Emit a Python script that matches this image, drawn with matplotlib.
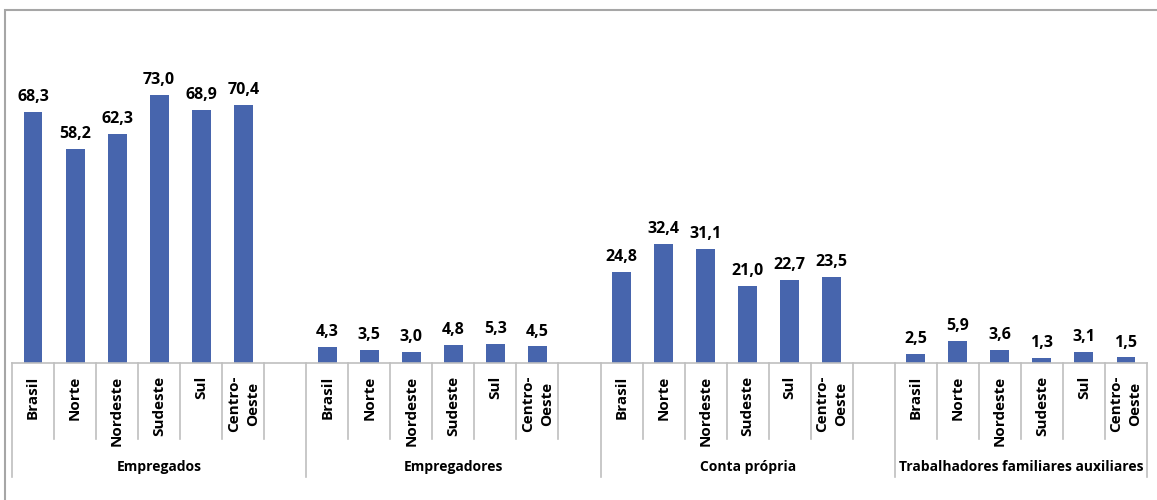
import matplotlib
matplotlib.use("Agg")
from matplotlib import pyplot as plt
from matplotlib import transforms
from matplotlib.patches import Rectangle

# chart data
groups = ["Empregados", "Empregadores", "Conta própria",
          "Trabalhadores familiares auxiliares"]
regions = ["Brasil", "Norte", "Nordeste", "Sudeste", "Sul", "Centro-\nOeste"]
empregados = [68.3, 58.2, 62.3, 73.0, 68.9, 70.4]
empregadores = [4.3, 3.5, 3.0, 4.8, 5.3, 4.5]
conta_propria = [24.8, 32.4, 31.1, 21.0, 22.7, 23.5]
familiares = [2.5, 5.9, 3.6, 1.3, 3.1, 1.5]
series = [empregados, empregadores, conta_propria, familiares]

plt.rcParams["font.family"] = ["Open Sans", "DejaVu Sans"]

W, H = 1157, 500
fig = plt.figure(figsize=(W / 100, H / 100), dpi=100)

# axes placed in pixel units of the image (top-left origin)
left, right, top, base = 12, 1147, 20, 363
ax = fig.add_axes([left / W, 1 - base / H, (right - left) / W,
                   (base - top) / H])

bar_color = "#4765AD"
line_color = "#BFBFBF"

# slots: 7 per group, last group without the empty slot
n_slots = 7 * (len(groups) - 1) + len(regions)
group_starts = [7 * g for g in range(len(groups))]

for g, values in enumerate(series):
    xs = [group_starts[g] + i + 0.5 for i in range(len(values))]
    ax.bar(xs, values, width=0.45, color=bar_color, zorder=2)
    for x, v in zip(xs, values):
        ax.annotate(f"{v:.1f}".replace(".", ","), (x, v),
                    xytext=(0, 5), textcoords="offset points",
                    ha="center", va="bottom", fontsize=11.5,
                    fontweight="bold", color="black")

ax.set_xlim(0, n_slots)
ax.set_ylim(0, 73.0 * (base - top) / 268)
ax.axis("off")
ax.plot([0, n_slots], [0, 0], color=line_color, lw=1.2, clip_on=False,
        zorder=3)

# multi-level category axis
trans = transforms.blended_transform_factory(ax.transData, fig.transFigure)


def fy(y):
    return 1 - y / H


for g in range(len(groups)):
    start = group_starts[g]
    for i in range(len(regions)):
        x = start + i
        if i > 0:
            ax.plot([x, x], [fy(base), fy(439)], color=line_color, lw=1.2,
                    transform=trans, clip_on=False)
        ax.text(x + 0.5, fy(376), regions[i], transform=trans, rotation=90,
                ha="center", va="top", fontsize=11, fontweight="bold",
                multialignment="center", linespacing=1.45)
    if g < len(groups) - 1:
        ax.plot([start + 6, start + 6], [fy(base), fy(439)],
                color=line_color, lw=1.2, transform=trans, clip_on=False)
    end = start + (7 if g < len(groups) - 1 else len(regions))
    ax.text((start + end) / 2, fy(467), groups[g], transform=trans,
            ha="center", va="center", fontsize=10, fontweight="bold")

for x in group_starts + [n_slots]:
    ax.plot([x, x], [fy(base), fy(477)], color=line_color, lw=1.2,
            transform=trans, clip_on=False)

# outer frame of the chart
fig.patches.append(Rectangle((5 / W, fy(530)), 1.1, (530 - 10) / H,
                             transform=fig.transFigure, fill=False,
                             edgecolor="#A6A6A6", lw=1.5))

fig.savefig("out.png", dpi=100)
